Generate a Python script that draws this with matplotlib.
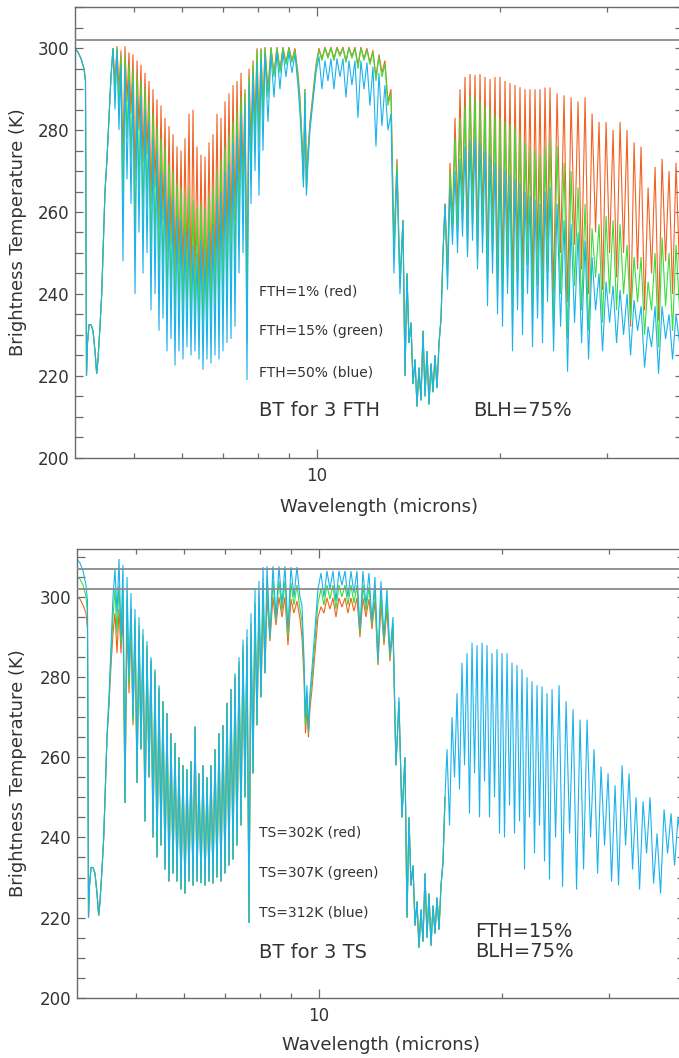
import matplotlib
matplotlib.use("Agg")
import matplotlib.pyplot as plt
from matplotlib.ticker import FixedLocator, FixedFormatter, NullFormatter, MultipleLocator

# ---------------- wavelength grid (microns), split by spectral region ----------------
wl_a = [4.000, 4.046, 4.092, 4.139, 4.162, 4.178, 4.194, 4.218, 4.250, 4.282, 4.315,
        4.342, 4.364, 4.397, 4.426, 4.448, 4.481, 4.515, 4.550, 4.584, 4.619]
wl_b = [4.654, 4.690, 4.725, 4.761, 4.797, 4.834, 4.871, 4.908, 4.945, 4.983,
        5.021, 5.059, 5.097, 5.136, 5.175, 5.214, 5.254, 5.294, 5.334, 5.375,
        5.416, 5.457, 5.498, 5.540, 5.582, 5.625, 5.667, 5.711, 5.754, 5.798,
        5.842, 5.886, 5.931, 5.976, 6.021, 6.067, 6.113, 6.160, 6.207, 6.254,
        6.301, 6.349, 6.398, 6.446, 6.495, 6.545, 6.594, 6.644, 6.695, 6.746,
        6.797, 6.849, 6.901, 6.953, 7.006, 7.060, 7.113, 7.167, 7.222, 7.277,
        7.332, 7.388, 7.444, 7.501, 7.558, 7.615, 7.673, 7.731, 7.790, 7.849,
        7.909]
wl_w1 = [7.969, 8.030, 8.091, 8.152, 8.214, 8.307, 8.402, 8.498, 8.595, 8.693,
         8.792, 8.893, 8.994, 9.097, 9.201, 9.306, 9.377, 9.448, 9.502, 9.556,
         9.610, 9.665, 9.739, 9.850, 9.963]
wl_w2 = [10.077, 10.191, 10.308, 10.425, 10.545, 10.665, 10.787, 10.910, 11.035, 11.161,
         11.288, 11.417, 11.548, 11.680, 11.813, 11.948, 12.085, 12.223, 12.363, 12.504,
         12.647, 12.791, 12.937, 13.085, 13.235, 13.386, 13.539, 13.694, 13.850]
wl_co2 = [13.958, 14.064, 14.171, 14.279, 14.388, 14.497, 14.607, 14.718, 14.830, 14.943,
          15.057, 15.171, 15.287, 15.403, 15.520, 15.638, 15.757, 15.877, 15.998, 16.119]
wl_far = [16.242, 16.397, 16.553, 16.710, 16.869, 17.029, 17.191, 17.355, 17.520, 17.687,
          17.855, 18.025, 18.196, 18.369, 18.544, 18.721, 18.899, 19.078, 19.260, 19.443,
          19.628, 19.815, 20.003, 20.194, 20.386, 20.580, 20.775, 20.973, 21.173, 21.374,
          21.577, 21.783, 21.990, 22.199, 22.410, 22.623, 22.839, 23.056, 23.275, 23.497,
          23.720, 23.946, 24.174, 24.501, 24.828, 25.159, 25.495, 25.835, 26.179, 26.529,
          26.883, 27.241, 27.605, 27.973, 28.347, 28.725, 29.108, 29.496, 29.890, 30.289,
          30.693, 31.103, 31.518, 31.938, 32.364, 32.796, 33.234, 33.677, 34.126, 34.582,
          35.043, 35.511, 35.985, 36.465, 36.951, 37.444, 37.944, 38.450, 38.963, 39.483,
          40.010]

# ---------------- brightness temperatures (K) ----------------
# segments shared by all runs (opaque 4.3 um and 15 um CO2 bands)
bt_a_common = [300, 299, 297.5, 295, 292, 220, 228, 232.5, 232.5, 231, 226, 220.5, 224,
               232, 240, 250, 265, 273, 283, 293, 300]
bt_co2 = [220, 245, 228, 233, 218, 224, 212.5, 222, 214, 231, 215, 226, 213, 223, 216,
          225, 217, 228, 234, 250]

# top panel: FTH = 50% (blue)
fth50_b = [285, 299.5, 280, 296, 248, 295, 268, 292, 262, 291.5,
           240, 288, 255, 288.5, 245, 285, 250, 282, 236, 278,
           240, 275, 231, 270, 234, 269, 226, 264, 229, 263,
           222.5, 259, 226, 258, 224, 255, 227, 256, 225, 252,
           226, 250, 224, 253, 221.5, 251, 224, 255, 223, 257,
           225, 263, 224, 265, 226, 270, 228, 272, 229, 277,
           232, 279, 245, 284, 250, 286, 219, 291, 262, 294,
           270]
fth50_w1 = [296.5, 264, 297.5, 275, 298.5, 282, 298.5, 288, 299, 290, 299, 293, 299, 294,
            298.5, 291, 284, 275, 266, 289, 264, 272, 280, 287, 294]
fth50_w2 = [298, 290, 297, 292, 297.5, 290, 297.5, 293, 297.5, 288, 297, 291, 297, 283, 297,
            290, 296.5, 286, 295.5, 276, 294, 281, 291, 280, 284, 245, 270, 240, 258]
fth50_far = [262, 241, 266, 252, 270, 250, 273, 254, 276, 249,
             277.5, 253, 278, 246, 277, 250, 275, 237, 274, 245,
             272, 235, 271, 232, 270, 240, 269, 226, 268, 236,
             267, 230, 265, 240, 264, 227, 263, 234, 262, 228,
             265, 238, 266, 226, 262, 232, 258, 221, 257, 233,
             255, 228, 253, 224, 249, 236, 245, 226, 243, 233,
             242, 228, 241, 230, 240, 225, 238.5, 231, 237, 222,
             232, 227, 237, 220.5, 237, 229, 235, 224, 235, 228,
             233]

# top panel: FTH = 15% (green)
fth15_b = [289, 300, 285, 298, 260, 298, 278, 296, 273, 295,
           252, 293, 266, 292, 258, 290, 262, 287, 248, 284,
           252, 281, 242, 278, 244, 276, 236, 272, 239, 270,
           232, 267, 235, 266, 232, 264, 234, 266, 231, 263,
           233, 261, 230, 262, 230, 261, 232, 264, 231, 266,
           233, 270, 233, 273, 235, 276, 238, 279, 240, 282,
           243, 285, 254, 288, 259, 289, 228, 293, 268, 296,
           276]
fth15_w1 = [299.5, 276, 299.8, 283, 300, 288, 300, 293, 300, 294, 300, 296, 300, 296.5,
            299.5, 293, 287, 277, 267, 290, 265, 274, 281, 288, 295.5]
fth15_w2 = [299.5, 297, 300, 297.5, 300, 297, 300, 298, 300, 296.5, 300, 297.5, 300, 295, 300,
            297, 299.5, 296, 299, 292, 298, 293, 296, 286, 289, 250, 272, 242, 258]
fth15_far = [262, 244, 270, 256, 278, 255, 283, 258, 286, 250,
             288.5, 257, 288, 248, 287, 254, 286, 242, 285, 250,
             284, 239, 283, 238, 282, 246, 281.5, 233, 281, 243,
             279, 236, 277, 247, 276, 234, 275, 242, 274, 235,
             276, 245, 278, 232, 276, 240, 272, 229, 270, 242,
             266, 236, 262, 231, 256, 244, 257, 233, 259, 240,
             258, 236, 257, 240, 252, 233.5, 249, 238, 249, 230,
             243, 236, 250, 227, 253.8, 237, 250, 231, 252, 236,
             248]

# top panel: FTH = 1% (red)
fth1_b = [292, 300.5, 290, 299.5, 272, 300.5, 287, 299, 284, 298.5,
          268, 297, 280, 296, 272, 294, 274, 292, 262, 290,
          266, 287.5, 256, 286, 258, 283, 250, 281, 252, 279,
          245, 276, 247, 275, 243, 278, 245, 284, 240, 285,
          242, 276, 238, 274, 240, 273.5, 239, 277, 242, 279,
          244, 284, 245, 283, 248, 287, 252, 289, 254, 291,
          258, 292, 264, 294, 268, 290, 238, 295, 276, 297,
          282]
fth1_w1 = [300, 280, 300, 285, 300.3, 290, 300.3, 294, 300.3, 295, 300.3, 296.5, 300.3, 297,
           300, 294, 288, 278, 268, 290, 266, 275, 282, 289, 296]
fth1_w2 = [300, 297.5, 300.3, 298, 300.3, 297.5, 300.3, 298.5, 300.3, 297, 300.3, 298, 300.3,
           296, 300.3, 297.5, 300, 296.5, 299.5, 293, 298.5, 294, 297, 287, 290, 252, 273,
           243, 258]
fth1_far = [262, 246, 272, 258, 283, 260, 290, 262, 293, 254,
            293.7, 262, 293.5, 252, 293.7, 258, 293, 246, 292.5, 255,
            293, 244, 293, 244, 292, 252, 291.5, 240, 291, 250,
            290.5, 243, 290, 254, 290, 241, 290, 250, 290, 243,
            290.4, 253, 290.4, 240, 289, 250, 288.5, 238, 288, 252,
            287, 246, 288, 240, 284, 255, 282, 241, 282, 250,
            280, 244, 282, 250, 280, 232, 277, 246, 276, 236,
            266, 245, 271, 233.5, 273, 248, 270, 240, 272, 245,
            268]

# bottom panel: TS = 312 K (blue)
ts312_a = [309.5, 308.5, 306.5, 303, 299, 220, 228, 232.5, 232.5, 231, 226, 220.5, 224,
           232, 240, 250, 265, 275, 288, 300, 307]
ts312_b = [296, 309.5, 290, 308, 248.6, 305, 280, 301, 270, 297,
           253.6, 295, 262, 292, 244, 289, 255, 285, 240, 282,
           235, 278, 238, 274, 232, 271, 229, 266, 231, 263.6,
           229, 260, 227, 258, 226, 257, 229, 259, 228, 267.7,
           229, 256, 228.6, 258, 228, 255, 229, 258, 228.5, 262,
           230, 266, 229, 268, 231, 273.6, 233, 277, 234.5, 281,
           238, 285, 243, 289.4, 250, 292, 218.7, 296, 256, 302,
           268]
ts312_w1 = [304, 275, 307.5, 281, 307.7, 290, 307.7, 295, 307.7, 298, 307.7, 292, 307.5,
            300, 307.5, 300, 298, 285, 270, 278, 267, 276, 282, 292, 302]
ts312_w2 = [306, 300, 306.5, 302, 306.5, 299, 306.5, 303, 306.5, 300, 306.5, 301, 306.5, 292,
            306.5, 298, 306, 294, 305, 284.4, 304, 290, 302, 286, 295, 258, 275, 245, 260]
ts312_far = [262, 243, 270, 255, 276, 252, 283.6, 258, 286, 246,
             288.6, 256, 288, 245, 288.6, 254, 288, 245, 286, 250,
             287, 241, 286, 240, 286, 248, 283.6, 241, 283, 244,
             282, 232, 280, 245, 279, 236, 278, 243, 277.7, 234,
             276, 229.5, 277, 240, 278, 227.7, 274, 241, 272, 227,
             269.4, 232, 269.4, 240, 262, 231, 257.7, 238, 256, 229,
             253, 228, 258, 238, 256, 232, 250, 227, 249, 236,
             250, 228.5, 241, 226, 247, 236, 246, 233, 245, 238,
             244]

# bottom panel: TS = 307 K (green), visible part 4-16 um
ts307_a = [305, 304.5, 303, 300, 296, 220, 228, 232.5, 232.5, 231, 226, 220.5, 224,
           232, 240, 250, 265, 274, 285, 295, 302]
ts307_b = [291, 303, 288, 302, 248.6, 299.5, 278, 297, 269, 294.5,
           253.6, 293, 262, 290.5, 244, 288, 255, 284.5, 240, 281.5,
           235, 277.5, 238, 274, 232, 271, 229, 266, 231, 263.6,
           229, 260, 227, 258, 226, 257, 229, 259, 228, 267.7,
           229, 256, 228.6, 258, 228, 255, 229, 258, 228.5, 262,
           230, 266, 229, 268, 231, 273.6, 233, 277, 234.5, 280.5,
           238, 284, 243, 288, 250, 290, 218.7, 293.5, 256, 298.5,
           268]
ts307_w1 = [300.5, 275, 303.5, 281, 304, 289.5, 304, 294, 304, 296.5, 304, 290, 303.5, 298,
            303, 297, 294, 283, 268, 275, 266, 274, 279.5, 289, 298.5]
ts307_w2 = [302, 298, 303, 299.5, 303, 297, 303, 300, 303, 298, 303, 298.5, 303, 291, 303,
            296.5, 302.5, 293, 302, 283.5, 301, 289, 299.5, 285, 293.5, 258, 274, 245, 260]

# bottom panel: TS = 302 K (red), visible part 4-16 um
ts302_a = [300, 299.5, 298, 296, 292, 220, 228, 232.5, 232.5, 231, 226, 220.5, 224,
           232, 240, 250, 265, 273, 283, 291, 296]
ts302_b = [286, 297, 286, 296, 248.6, 294, 276, 293, 268, 292,
           253.6, 291, 262, 289, 244, 287, 255, 284, 240, 281,
           235, 277, 238, 274, 232, 271, 229, 266, 231, 263.6,
           229, 260, 227, 258, 226, 257, 229, 259, 228, 267.7,
           229, 256, 228.6, 258, 228, 255, 229, 258, 228.5, 262,
           230, 266, 229, 268, 231, 273.6, 233, 277, 234.5, 280,
           238, 283, 243, 286, 250, 288, 218.7, 291, 256, 295,
           268]
ts302_w1 = [297, 275, 299.5, 281, 300, 289, 300, 293, 300, 295, 300, 288, 299.5, 296,
            299, 294.6, 290, 280, 266, 272, 265, 272, 277, 286, 295]
ts302_w2 = [297.6, 296, 299.8, 297, 299.8, 295, 299.8, 297.5, 299.8, 296, 299.8, 296.5, 299.8,
            290, 299.8, 295, 299.5, 292, 299, 283, 298.5, 288, 297, 284, 292, 258, 273, 245,
            260]

surface_lines_top = [302]
surface_lines_bottom = [302, 307]

# ---------------- assemble ----------------
wl = wl_a + wl_b + wl_w1 + wl_w2 + wl_co2 + wl_far
top_series = [
    (bt_a_common + fth1_b + fth1_w1 + fth1_w2 + bt_co2 + fth1_far, '#f26224'),
    (bt_a_common + fth15_b + fth15_w1 + fth15_w2 + bt_co2 + fth15_far, '#3ade3a'),
    (bt_a_common + fth50_b + fth50_w1 + fth50_w2 + bt_co2 + fth50_far, '#1cb3ec'),
]
bottom_series = [
    (ts302_a + ts302_b + ts302_w1 + ts302_w2 + bt_co2, '#f26224'),
    (ts307_a + ts307_b + ts307_w1 + ts307_w2 + bt_co2, '#3ade3a'),
    (ts312_a + ts312_b + ts312_w1 + ts312_w2 + bt_co2 + ts312_far, '#1cb3ec'),
]

W, H = 679, 1058
fig = plt.figure(figsize=(W / 100, H / 100), dpi=100)
ax1 = fig.add_axes([75 / W, 1 - 457.7 / H, 608 / W, 450.4 / H])
ax2 = fig.add_axes([77 / W, 1 - 997.7 / H, 608 / W, 448.7 / H])

TXT = '#333333'
AXC = '#6a6a6a'


def style(ax, ymax):
    ax.set_xscale('log')
    ax.set_xlim(4, 40)
    ax.set_ylim(200, ymax)
    ax.xaxis.set_major_locator(FixedLocator([10]))
    ax.xaxis.set_major_formatter(FixedFormatter(['10']))
    ax.xaxis.set_minor_locator(FixedLocator([5, 6, 7, 8, 9, 20, 30]))
    ax.xaxis.set_minor_formatter(NullFormatter())
    ax.yaxis.set_major_locator(MultipleLocator(20))
    ax.yaxis.set_minor_locator(MultipleLocator(5))
    ax.tick_params(which='both', direction='in', top=True, right=True, color=AXC,
                   width=0.9, labelcolor=TXT, labelsize=12)
    ax.tick_params(axis='y', which='both', length=5.5, pad=4)
    ax.tick_params(axis='x', which='major', length=6.5, pad=7)
    ax.tick_params(axis='x', which='minor', length=3.5)
    for sp in ax.spines.values():
        sp.set_color(AXC)
        sp.set_linewidth(1.0)


for ax, series, lines, ymax in [(ax1, top_series, surface_lines_top, 310),
                                (ax2, bottom_series, surface_lines_bottom, 312)]:
    style(ax, ymax)
    for vals, col in series:
        ax.plot(wl[:len(vals)], vals, color=col, lw=0.8, solid_joinstyle='miter')
    for h in lines:
        ax.axhline(h, color='#8a8a8a', lw=1.3, zorder=5)

# annotations
ax1.text(8.03, 240.7, 'FTH=1% (red)', fontsize=10, color=TXT, va='center')
ax1.text(8.03, 230.9, 'FTH=15% (green)', fontsize=10, color=TXT, va='center')
ax1.text(8.03, 220.9, 'FTH=50% (blue)', fontsize=10, color=TXT, va='center')
ax1.text(8.03, 211.6, 'BT for 3 FTH', fontsize=14, color=TXT, va='center')
ax1.text(18.06, 211.6, 'BLH=75%', fontsize=14, color=TXT, va='center')

ax2.text(7.97, 241.2, 'TS=302K (red)', fontsize=10, color=TXT, va='center')
ax2.text(7.97, 231.2, 'TS=307K (green)', fontsize=10, color=TXT, va='center')
ax2.text(7.97, 221.2, 'TS=312K (blue)', fontsize=10, color=TXT, va='center')
ax2.text(7.97, 211.25, 'BT for 3 TS', fontsize=14, color=TXT, va='center')
ax2.text(18.1, 216.5, 'FTH=15%', fontsize=14, color=TXT, va='center')
ax2.text(18.1, 211.5, 'BLH=75%', fontsize=14, color=TXT, va='center')

# axis labels
fig.text(18 / W, 1 - 232.5 / H, 'Brightness Temperature (K)', rotation=90,
         ha='center', va='center', fontsize=13, color=TXT)
fig.text(18 / W, 1 - 773 / H, 'Brightness Temperature (K)', rotation=90,
         ha='center', va='center', fontsize=13, color=TXT)
fig.text(379 / W, 1 - 507 / H, 'Wavelength (microns)', ha='center', va='center',
         fontsize=13, color=TXT)
fig.text(381 / W, 1 - 1045 / H, 'Wavelength (microns)', ha='center', va='center',
         fontsize=13, color=TXT)

fig.savefig('out.png', dpi=100)
